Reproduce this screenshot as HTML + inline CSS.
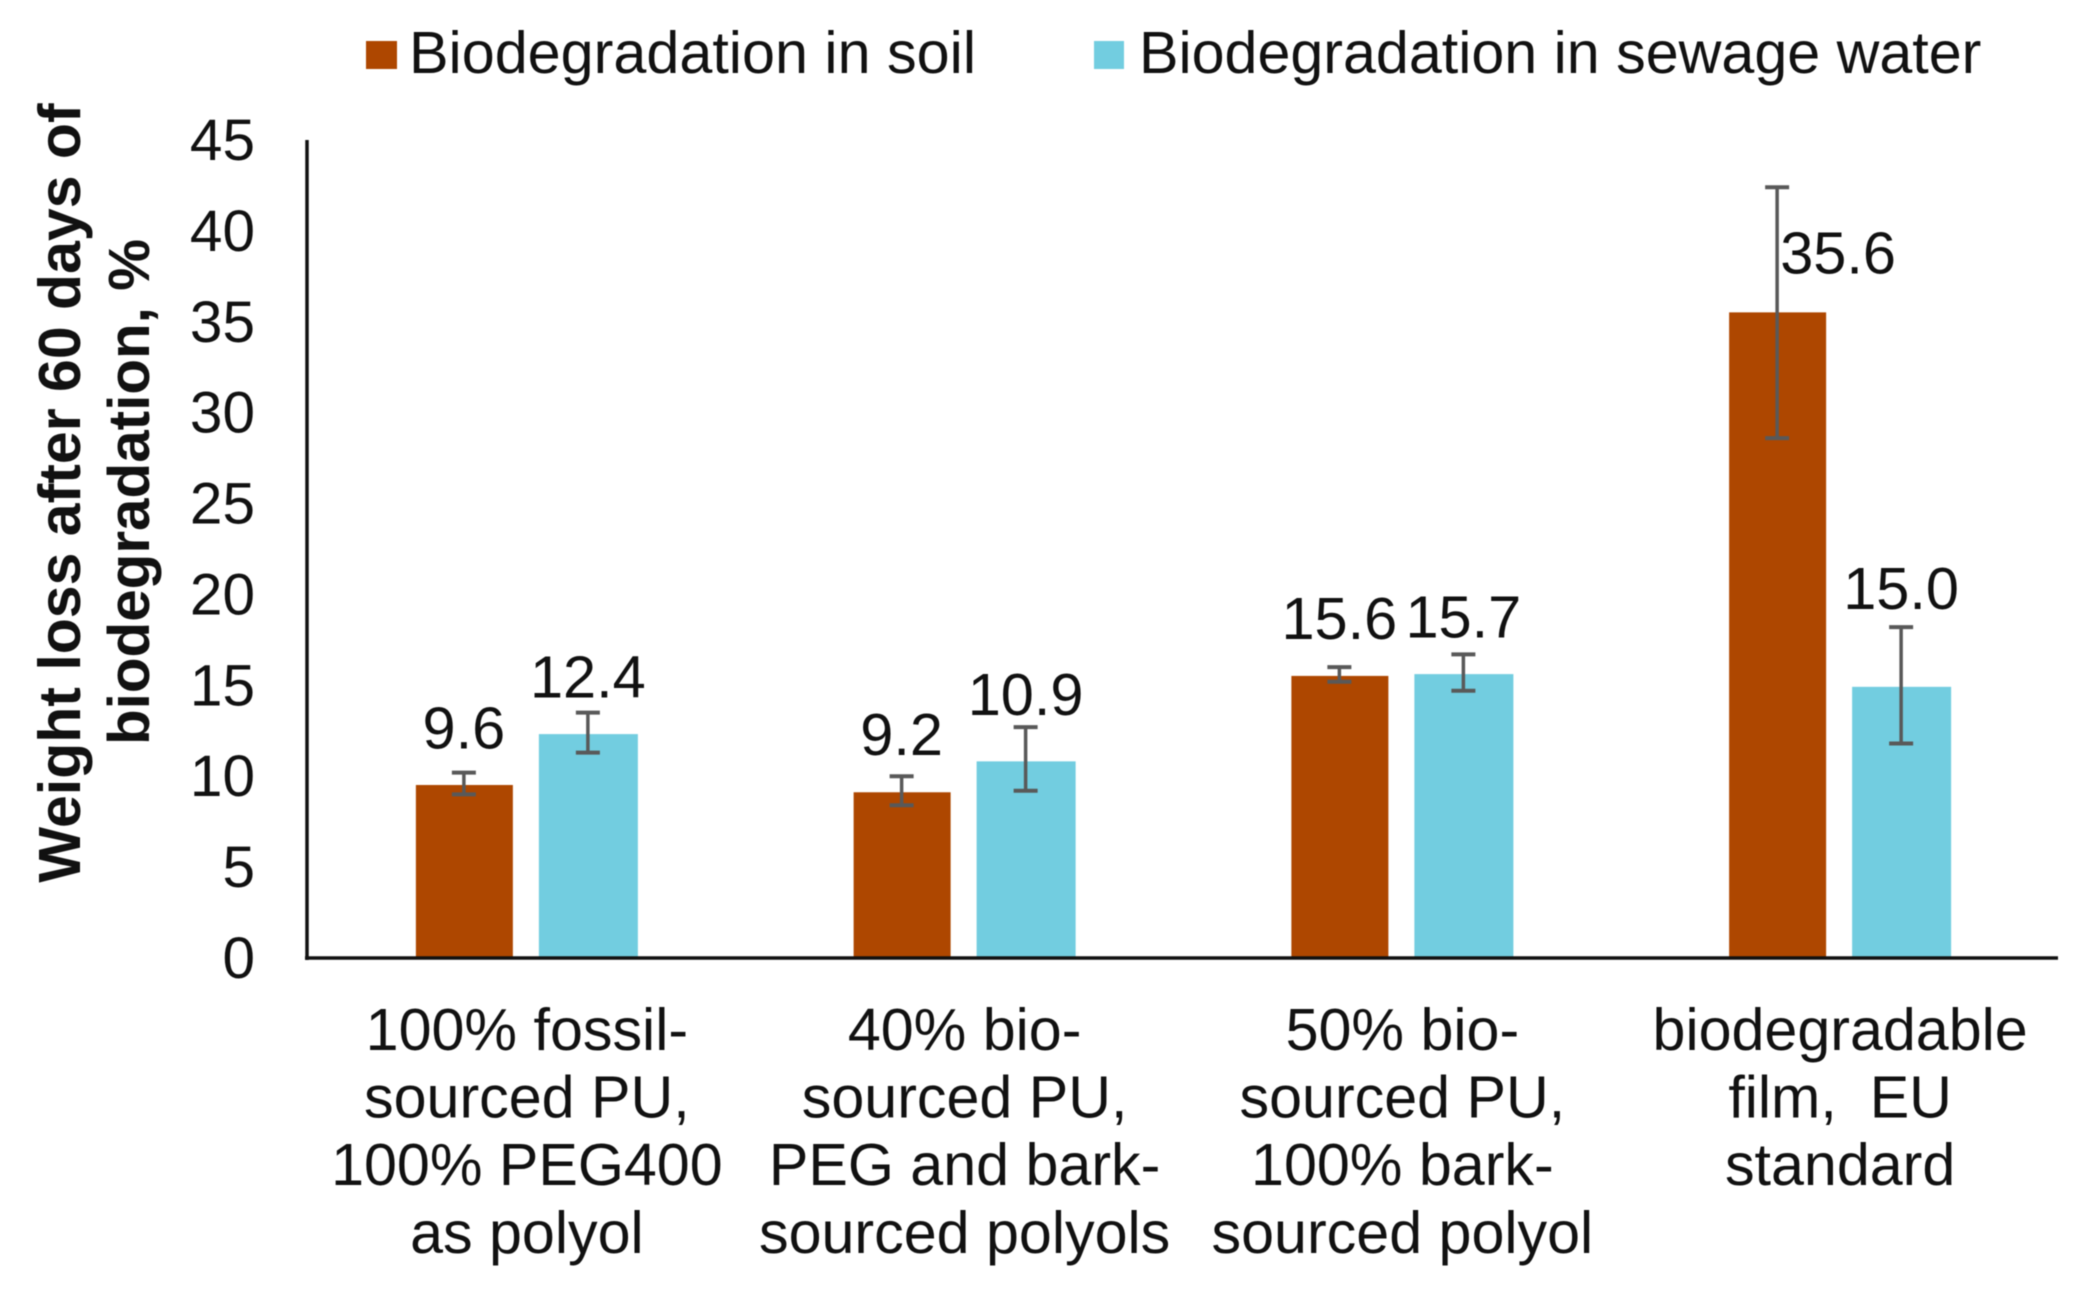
<!DOCTYPE html>
<html lang="en">
<head>
<meta charset="utf-8">
<title>Weight loss after 60 days of biodegradation</title>
<style>
html,body{margin:0;padding:0;background:#fff;}
#chart{display:block;width:2079px;height:1298px;font-family:"Liberation Sans",Arial,sans-serif;fill:#111;filter:blur(0.5px);}
</style>
</head>
<body>
<svg id="chart" xmlns="http://www.w3.org/2000/svg" width="2079" height="1298" viewBox="0 0 2079 1298">
  <rect width="2079" height="1298" fill="#ffffff"/>
  <g>
    <g>
      <rect x="366" y="41" width="31" height="28" fill="#ae4700"/>
      <text x="409" y="73" font-size="59.3">Biodegradation in soil</text>
    </g>
    <g>
      <rect x="1094" y="41" width="30" height="28" fill="#72cde0"/>
      <text x="1139" y="73" font-size="59.2">Biodegradation in sewage water</text>
    </g>
  </g>
  <g font-weight="bold" text-anchor="middle">
    <text font-size="59" transform="translate(80 493) rotate(-90)">Weight loss after 60 days of</text>
    <text font-size="58.4" transform="translate(149 492) rotate(-90)">biodegradation, %</text>
  </g>
  <g id="y-ticks"></g>
  <g id="marks"></g>
  <g id="errors"></g>
  <g id="values"></g>
  <g id="axes"></g>
  <g id="x-labels"></g>
</svg>
<script>
const categories = [
  ["100% fossil-", "sourced PU,", "100% PEG400", "as polyol"],
  ["40% bio-", "sourced PU,", "PEG and bark-", "sourced polyols"],
  ["50% bio-", "sourced PU,", "100% bark-", "sourced polyol"],
  ["biodegradable", "film,  EU", "standard"]
];
const yTicks = [0, 5, 10, 15, 20, 25, 30, 35, 40, 45];
const soilValues = [9.6, 9.2, 15.6, 35.6];
const soilLow = [9.0, 8.4, 15.2, 28.6];
const soilHigh = [10.2, 10.0, 16.0, 42.4];
const sewageValues = [12.4, 10.9, 15.7, 15.0];
const sewageLow = [11.3, 9.2, 14.7, 11.8];
const sewageHigh = [13.5, 12.7, 16.7, 18.2];

const NS = "http://www.w3.org/2000/svg";
const plotLeft = 307, plotRight = 2058, plotTop = 140, plotBottom = 958, yMax = 45;

function yScale(v) {
  return plotBottom - v * (plotBottom - plotTop) / yMax;
}
function groupCenter(i) {
  return plotLeft + (plotRight - plotLeft) * (i + 0.5) / categories.length;
}
function make(tag, parentId, props) {
  const el = document.createElementNS(NS, tag);
  Object.keys(props).forEach(function (k) { el.setAttribute(k, props[k]); });
  document.getElementById(parentId).appendChild(el);
  return el;
}

// y axis tick labels
yTicks.forEach(function (t) {
  const el = make("text", "y-ticks", { x: 255, y: yScale(t) + 20, "font-size": 58.5, "text-anchor": "end" });
  
  
  el.textContent = t;
});

function drawSeries(values, low, high, key, fill, x0, x1, errX, gaps) {
  values.forEach(function (v, i) {
    const c = groupCenter(i);
    const barTop = yScale(v) + 1.5;
    const bar = make("rect", "marks", { x: c + x0, y: barTop, width: x1 - x0, height: plotBottom - barTop, fill: fill });
    
    

    const ex = c + errX;
    const yHi = yScale(high[i]), yLo = yScale(low[i]);
    const stem = make("line", "errors", { x1: ex, x2: ex, y1: yHi, y2: yLo, stroke: "#595959", "stroke-width": 3.5 });
    
    
    [yHi, yLo].forEach(function (cy) {
      const cap = make("line", "errors", { x1: ex - 12, x2: ex + 12, y1: cy, y2: cy, stroke: "#595959", "stroke-width": 4 });
      
      
    });

    const tall = key === "soil" && i === 3;
    const label = make("text", "values", {
      x: tall ? ex + 61 : ex,
      y: yHi - gaps[i],
      "font-size": 59.5,
      "text-anchor": "middle"
    });
    
    
    label.textContent = v.toFixed(1);
  });
}
drawSeries(soilValues, soilLow, soilHigh, "soil", "#ae4700", -110, -13, -62, [24, 21, 28, -86]);
drawSeries(sewageValues, sewageLow, sewageHigh, "sewage-water", "#72cde0", 13, 112, 62, [15, 12, 17, 18]);

// axes
const yAxis = make("line", "axes", { x1: plotLeft, x2: plotLeft, y1: plotTop, y2: plotBottom + 2, stroke: "#111", "stroke-width": 3.5 });


const xAxis = make("line", "axes", { x1: plotLeft - 2, x2: plotRight, y1: plotBottom, y2: plotBottom, stroke: "#111", "stroke-width": 3.5 });



// category labels
categories.forEach(function (lines, i) {
  lines.forEach(function (line, j) {
    const el = make("text", "x-labels", {
      x: groupCenter(i) + 1,
      y: 1050 + j * 67.6,
      "font-size": 59.2,
      "text-anchor": "middle",
      "xml:space": "preserve"
    });
    
    
    el.style.whiteSpace = "pre";
    el.textContent = line;
  });
});
</script>
</body>
</html>
